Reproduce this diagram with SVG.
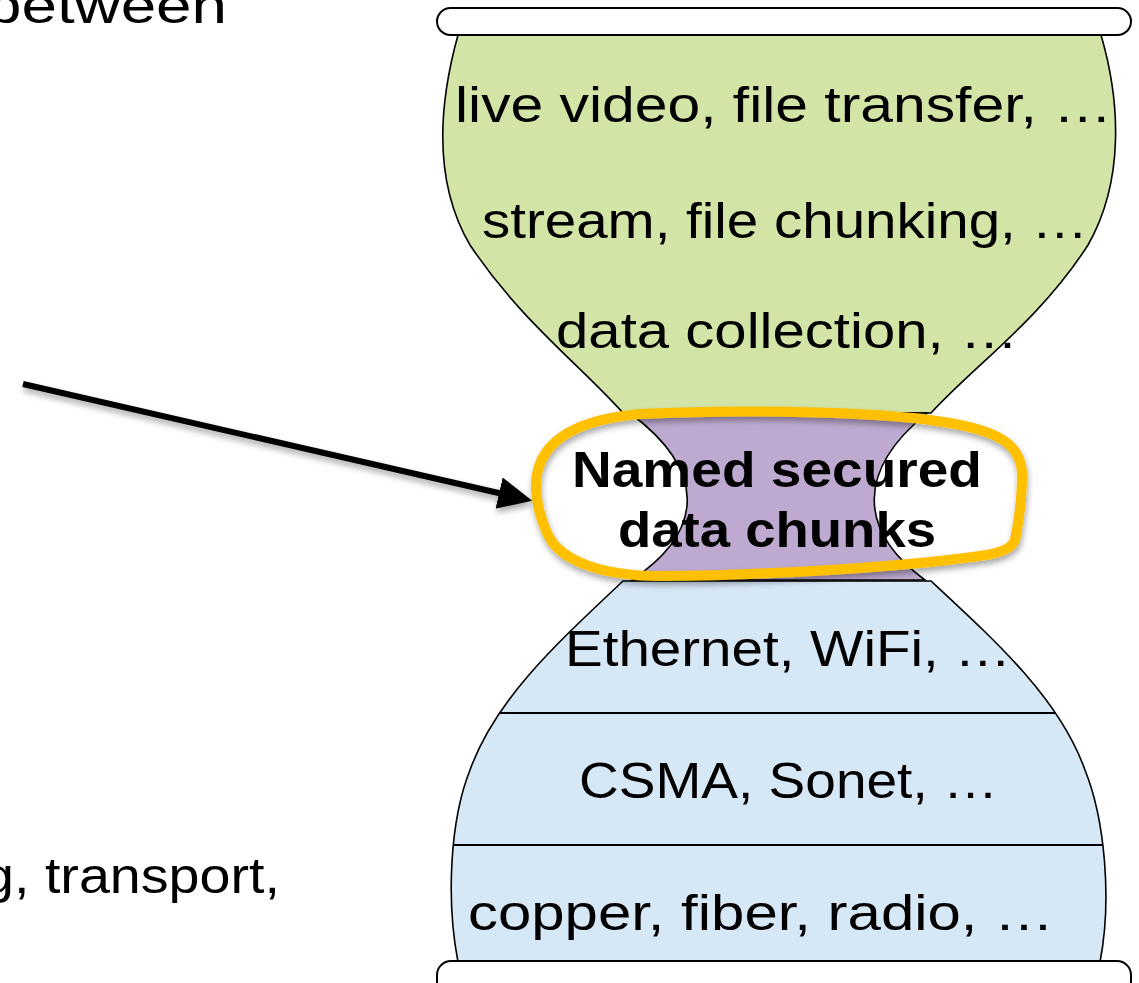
<svg xmlns="http://www.w3.org/2000/svg" width="1139" height="983" viewBox="0 0 1139 983">
  <style>
    .cap { fill: #ffffff; stroke: #000000; stroke-width: 2; }
    .layer { stroke: #000000; stroke-width: 1.6; }
    .sep { stroke: #000000; stroke-width: 1.8; }
    .lbl { font-family: "Liberation Sans", Arial, sans-serif; font-size: 50px; fill: #000000; }
    .bold { font-weight: bold; }
  </style>
  <defs>
    <filter id="shadow" x="-10%" y="-20%" width="120%" height="150%">
      <feDropShadow dx="1" dy="4" stdDeviation="3" flood-color="#000000" flood-opacity="0.35"/>
    </filter>
    <marker id="arrowhead" markerUnits="userSpaceOnUse" markerWidth="34" markerHeight="32" refX="4" refY="16" orient="auto">
      <path d="M0,0 L34,16 L0,32 Z" fill="#000000"/>
    </marker>
    <clipPath id="lowerClip">
      <path d="M623,581 L931,581 C1000,645 1060,700 1085,770 C1105,820 1112,900 1100,962 L458,962 C446,900 450,820 470,770 C495,700 555,645 623,581 Z"/>
    </clipPath>
  </defs>

  <!-- cut-off side captions -->
  <g id="side-text">
    <text class="lbl" x="-14" y="23" textLength="241" lengthAdjust="spacingAndGlyphs">between</text>
    <text class="lbl" x="-17" y="893" textLength="297" lengthAdjust="spacingAndGlyphs">g, transport,</text>
  </g>

  <!-- upper bulb: applications -->
  <g id="upper-bulb">
    <path class="layer" fill="#D2E4A6" d="M458,35 L1101,35 C1120,100 1125,180 1088,245 C1040,320 975,365 931,413 L623,413 C580,365 520,320 470,245 C432,180 440,100 458,35 Z"/>
    <text class="lbl" x="455" y="122" textLength="657" lengthAdjust="spacingAndGlyphs">live video, file transfer, …</text>
    <text class="lbl" x="482" y="238" textLength="606" lengthAdjust="spacingAndGlyphs">stream, file chunking, …</text>
    <text class="lbl" x="556" y="348" textLength="462" lengthAdjust="spacingAndGlyphs">data collection, …</text>
  </g>

  <!-- lower bulb: link and physical layers -->
  <g id="lower-bulb">
    <path class="layer" fill="#D6E7F6" d="M623,581 L931,581 C1000,645 1060,700 1085,770 C1105,820 1112,900 1100,962 L458,962 C446,900 450,820 470,770 C495,700 555,645 623,581 Z"/>
    <g clip-path="url(#lowerClip)">
      <line class="sep" x1="420" y1="713" x2="1139" y2="713"/>
      <line class="sep" x1="420" y1="845" x2="1139" y2="845"/>
    </g>
    <text class="lbl" x="565" y="666" textLength="446" lengthAdjust="spacingAndGlyphs">Ethernet, WiFi, …</text>
    <text class="lbl" x="579" y="798" textLength="419" lengthAdjust="spacingAndGlyphs">CSMA, Sonet, …</text>
    <text class="lbl" x="468" y="930" textLength="586" lengthAdjust="spacingAndGlyphs">copper, fiber, radio, …</text>
  </g>

  <!-- narrow waist -->
  <g id="waist">
    <path class="layer" fill="#BEAAD0" d="M630,413 L927,413 C857,470 857,530 925,580 L632,580 C706,530 706,470 630,413 Z"/>
  </g>

  <!-- end caps -->
  <g id="top-cap">
    <rect class="cap" x="437" y="8" width="694" height="27" rx="13.5"/>
  </g>
  <g id="bottom-cap">
    <rect class="cap" x="437" y="961" width="694" height="34" rx="14"/>
  </g>

  <!-- hand-drawn highlight around the waist -->
  <g id="highlight">
    <path fill="none" stroke="#FFC000" stroke-width="10" stroke-linejoin="round" filter="url(#shadow)"
          d="M536,490 C534,445 570,420 640,414 C720,410 850,410 930,420 C990,428 1022,440 1022,475 C1022,500 1018,525 1015,540 C1010,555 980,556 930,562 C850,570 740,576 660,576 C600,576 560,560 548,535 C540,518 537,505 536,490 Z"/>
    <text class="lbl bold" x="572" y="487" textLength="410" lengthAdjust="spacingAndGlyphs">Named secured</text>
    <text class="lbl bold" x="618" y="547" textLength="318" lengthAdjust="spacingAndGlyphs">data chunks</text>
  </g>

  <!-- connectors -->
  <g id="connectors">
    <line x1="23" y1="384" x2="503" y2="494" stroke="#000000" stroke-width="6" marker-end="url(#arrowhead)" filter="url(#shadow)"/>
  </g>
</svg>
